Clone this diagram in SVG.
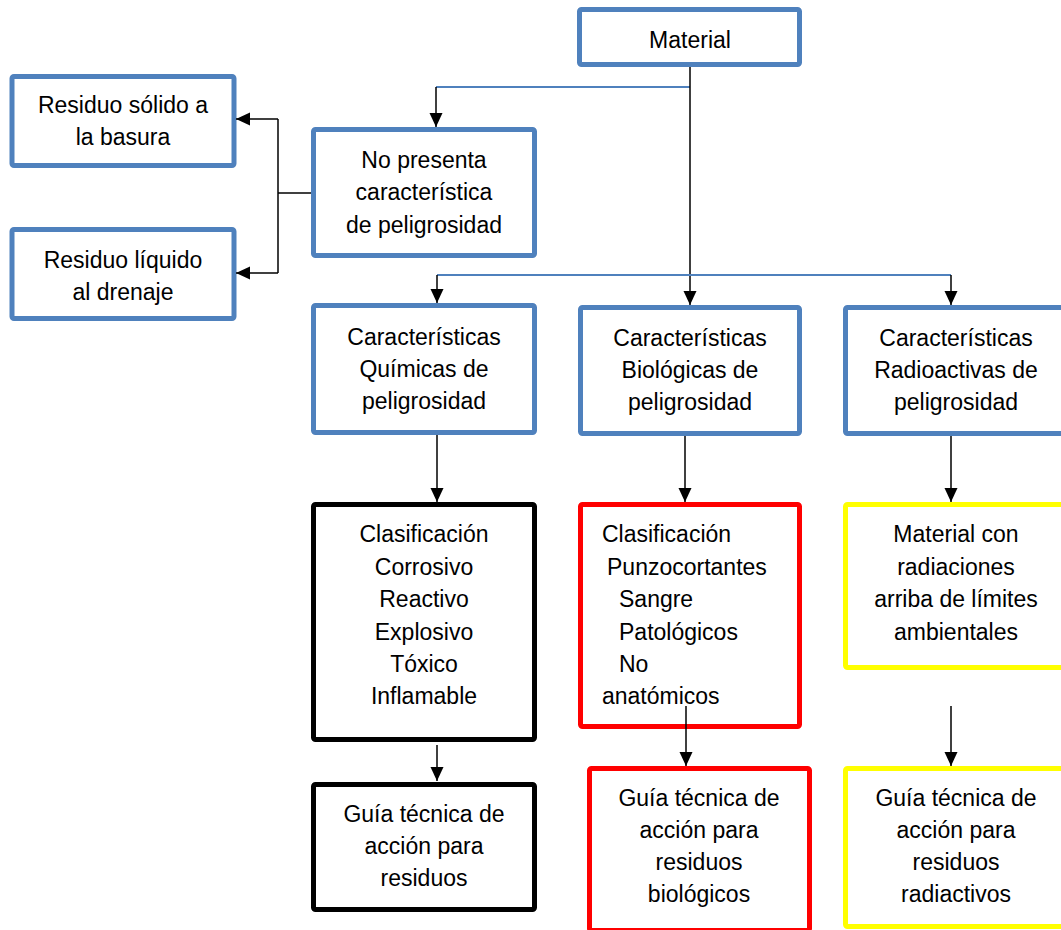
<svg xmlns="http://www.w3.org/2000/svg" width="1061" height="930" viewBox="0 0 1061 930">
<defs>
<style>
.box{fill:#fff;stroke-width:5;stroke-linejoin:round}
.blue{stroke:#4F81BD}
.black{stroke:#000}
.red{stroke:#FF0000}
.yellow{stroke:#FFFF00}
text{font-family:"Liberation Sans",Arial,sans-serif;font-size:23px;fill:#000}
.c{text-anchor:middle}
.ln{fill:none;stroke:#000;stroke-width:1.5}
.bl{fill:none;stroke:#4F81BD;stroke-width:2}
</style>
<marker id="ah" markerUnits="userSpaceOnUse" markerWidth="16" markerHeight="14" refX="14" refY="6.5" orient="auto">
<path d="M0,0 L14,6.5 L0,13 Z" fill="#000"/>
</marker>
</defs>
<rect width="1061" height="930" fill="#fff"/>

<g id="material">
<rect class="box blue" x="579.5" y="9.5" width="220" height="55" rx="2"/>
<text class="c" x="690" y="48">Material</text>
</g>

<g id="residuo-solido">
<rect class="box blue" x="12" y="76.5" width="222" height="89" rx="2"/>
<text class="c" x="123" y="113">Residuo sólido a</text>
<text class="c" x="123" y="145">la basura</text>
</g>

<g id="residuo-liquido">
<rect class="box blue" x="12" y="229.5" width="222" height="89" rx="2"/>
<text class="c" x="123" y="268">Residuo líquido</text>
<text class="c" x="123" y="300">al drenaje</text>
</g>

<g id="no-presenta">
<rect class="box blue" x="313.5" y="129.5" width="221" height="126" rx="2"/>
<text class="c" x="424" y="168">No presenta</text>
<text class="c" x="424" y="200">característica</text>
<text class="c" x="424" y="233">de peligrosidad</text>
</g>

<g id="quimicas">
<rect class="box blue" x="313.5" y="305.5" width="221" height="127" rx="2"/>
<text class="c" x="424" y="345">Características</text>
<text class="c" x="424" y="377">Químicas de</text>
<text class="c" x="424" y="409">peligrosidad</text>
</g>

<g id="biologicas">
<rect class="box blue" x="580.5" y="307.5" width="219" height="126" rx="2"/>
<text class="c" x="690" y="346">Características</text>
<text class="c" x="690" y="378">Biológicas de</text>
<text class="c" x="690" y="410">peligrosidad</text>
</g>

<g id="radioactivas">
<rect class="box blue" x="845.5" y="307.5" width="225" height="126" rx="2"/>
<text class="c" x="956" y="346">Características</text>
<text class="c" x="956" y="378">Radioactivas de</text>
<text class="c" x="956" y="410">peligrosidad</text>
</g>

<g id="clasificacion-quimica">
<rect class="box black" x="313.5" y="504.5" width="221" height="235" rx="2"/>
<text class="c" x="424" y="542">Clasificación</text>
<text class="c" x="424" y="575">Corrosivo</text>
<text class="c" x="424" y="607">Reactivo</text>
<text class="c" x="424" y="640">Explosivo</text>
<text class="c" x="424" y="672">Tóxico</text>
<text class="c" x="424" y="704">Inflamable</text>
</g>

<g id="clasificacion-biologica">
<rect class="box red" x="580.5" y="504.5" width="219" height="222" rx="2"/>
<text x="602" y="542">Clasificación</text>
<text x="607" y="575">Punzocortantes</text>
<text x="619" y="607">Sangre</text>
<text x="619" y="640">Patológicos</text>
<text x="619" y="672">No</text>
<text x="602" y="704">anatómicos</text>
</g>

<g id="material-radiaciones">
<rect class="box yellow" x="845.5" y="504.5" width="225" height="163" rx="2"/>
<text class="c" x="956" y="542">Material con</text>
<text class="c" x="956" y="575">radiaciones</text>
<text class="c" x="956" y="607">arriba de límites</text>
<text class="c" x="956" y="640">ambientales</text>
</g>

<g id="guia-quimica">
<rect class="box black" x="313.5" y="784.5" width="221" height="125" rx="2"/>
<text class="c" x="424" y="822">Guía técnica de</text>
<text class="c" x="424" y="854">acción para</text>
<text class="c" x="424" y="886">residuos</text>
</g>

<g id="guia-biologica">
<rect class="box red" x="589.5" y="768.5" width="220" height="162" rx="2"/>
<text class="c" x="699" y="806">Guía técnica de</text>
<text class="c" x="699" y="838">acción para</text>
<text class="c" x="699" y="870">residuos</text>
<text class="c" x="699" y="902">biológicos</text>
</g>

<g id="guia-radiactiva">
<rect class="box yellow" x="845.5" y="768.5" width="225" height="158" rx="2"/>
<text class="c" x="956" y="806">Guía técnica de</text>
<text class="c" x="956" y="838">acción para</text>
<text class="c" x="956" y="870">residuos</text>
<text class="c" x="956" y="902">radiactivos</text>
</g>

<g id="connectors">
<path class="bl" d="M436,87 H690"/>
<path class="ln" d="M690,67 V305" marker-end="url(#ah)"/>
<path class="ln" d="M436,87 V127" marker-end="url(#ah)"/>
<path class="ln" d="M311,193 H278"/>
<path class="ln" d="M278,119 V273"/>
<path class="ln" d="M278,119 H236" marker-end="url(#ah)"/>
<path class="ln" d="M278,273 H236" marker-end="url(#ah)"/>
<path class="bl" d="M437,275 H951"/>
<path class="ln" d="M437,275 V303" marker-end="url(#ah)"/>
<path class="ln" d="M951,275 V305" marker-end="url(#ah)"/>
<path class="ln" d="M437,435 V502" marker-end="url(#ah)"/>
<path class="ln" d="M685,436 V502" marker-end="url(#ah)"/>
<path class="ln" d="M951,436 V502" marker-end="url(#ah)"/>
<path class="ln" d="M437,745 V781" marker-end="url(#ah)"/>
<path class="ln" d="M686,706 V766" marker-end="url(#ah)"/>
<path class="ln" d="M951,706 V766" marker-end="url(#ah)"/>
</g>
</svg>
